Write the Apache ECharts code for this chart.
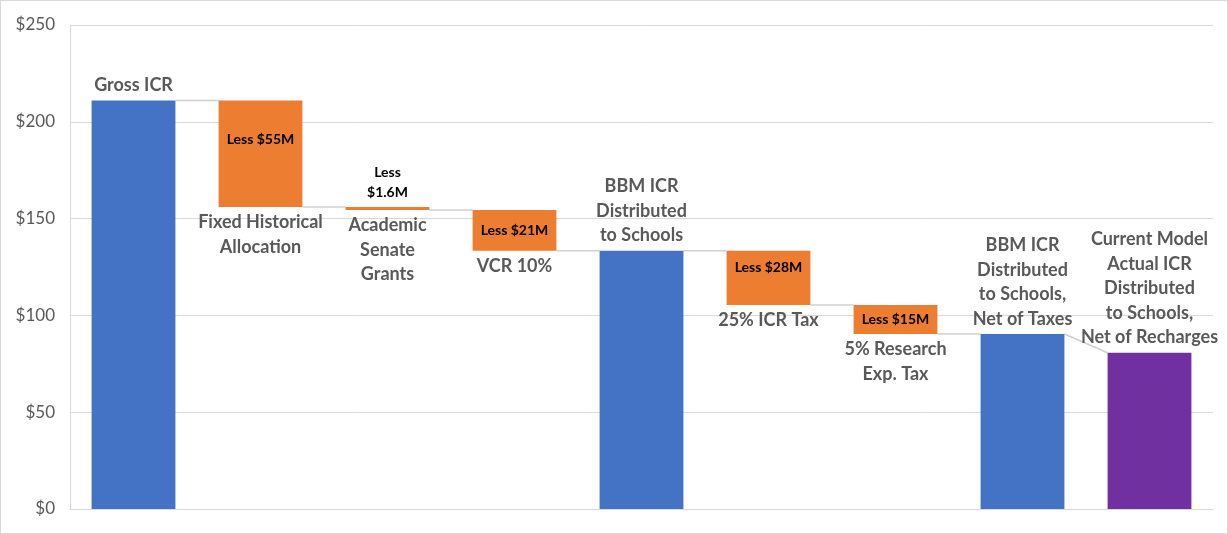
<!DOCTYPE html>
<html>
<head>
<meta charset="utf-8">
<script src="https://cdn.jsdelivr.net/npm/echarts@6/dist/echarts.min.js"></script>
<style>
  html, body { margin: 0; padding: 0; background: #fff; }
  #chart { width: 1228px; height: 534px; box-sizing: border-box; border: 1px solid #d9d9d9; }
</style>
</head>
<body>
<div id="chart"></div>
<script>
// waterfall steps, left to right
const categories = [
  'Gross ICR',
  'Fixed Historical\nAllocation',
  'Academic\nSenate\nGrants',
  'VCR 10%',
  'BBM ICR\nDistributed\nto Schools',
  '25% ICR Tax',
  '5% Research\nExp. Tax',
  'BBM ICR\nDistributed\nto Schools,\nNet of Taxes',
  'Current Model\nActual ICR\nDistributed\nto Schools,\nNet of Recharges'
]
const kinds = ['total', 'less', 'less', 'less', 'total', 'less', 'less', 'total', 'final']
const amounts = [211, 55, 1.6, 21, 133.4, 28, 15, 90.4, 80.7]
const amountLabels = ['', 'Less $55M', 'Less\n$1.6M', 'Less $21M', '', 'Less $28M', 'Less $15M', '', '']
const yTicks = [0, 50, 100, 150, 200, 250]

const FONT = 'Lato'
const GRAY = '#595959'
const colors = { total: '#4472C4', less: '#ED7D31', final: '#7030A0' }
// the amount labels were nudged by hand in the original
const labelNudge = { 1: -14, 5: -10 }

// running levels
const bases = []
const heights = []
const startLevel = []
const endLevel = []
let level = 0
amounts.forEach((v, i) => {
  if (kinds[i] === 'less') {
    startLevel.push(level)
    level = level - v
    bases.push(level)
    heights.push(v)
    endLevel.push(level)
  } else {
    startLevel.push(v)
    level = v
    bases.push(0)
    heights.push(v)
    endLevel.push(v)
  }
})

const connectors = []
for (let i = 0; i < amounts.length - 1; i++) {
  connectors.push([i, endLevel[i], startLevel[i + 1]])
}

const catLabel = {
  show: true,
  color: GRAY,
  fontFamily: FONT,
  fontWeight: 'bold',
  fontSize: 18,
  lineHeight: 24.5
}

const baseData = bases.map((b, i) => {
  const item = { value: b }
  if (kinds[i] === 'less') {
    item.label = Object.assign({}, catLabel, { position: 'insideTop', distance: 3, formatter: categories[i] })
  }
  return item
})

const barData = heights.map((h, i) => {
  const item = { value: h, itemStyle: { color: colors[kinds[i]] } }
  if (kinds[i] === 'less') {
    const thin = h < 5
    item.label = {
      show: true,
      position: thin ? 'top' : 'inside',
      offset: [0, labelNudge[i] || 0],
      distance: 4,
      color: '#000',
      fontFamily: FONT,
      fontWeight: 'bold',
      fontSize: 14,
      lineHeight: 20,
      formatter: amountLabels[i]
    }
  } else {
    item.label = Object.assign({}, catLabel, { position: 'top', distance: 3, formatter: categories[i] })
  }
  return item
})

const chart = echarts.init(document.getElementById('chart'))

const option = {
  animation: false,
  grid: { left: 69, right: 14, top: 24, bottom: 24 },
  xAxis: {
    type: 'category',
    data: categories,
    axisLine: { lineStyle: { color: '#d9d9d9' } },
    axisTick: { show: false },
    axisLabel: { show: false }
  },
  yAxis: {
    type: 'value',
    min: yTicks[0],
    max: yTicks[yTicks.length - 1],
    interval: 50,
    axisLine: { show: true, lineStyle: { color: '#d9d9d9' } },
    axisTick: { show: false },
    axisLabel: {
      color: GRAY,
      fontFamily: FONT,
      fontSize: 17,
      margin: 15,
      formatter: v => '$' + v
    },
    splitLine: { lineStyle: { color: '#d9d9d9' } }
  },
  series: [
    {
      type: 'custom',
      silent: true,
      z: 1,
      data: connectors,
      renderItem: (params, api) => {
        const from = api.coord([api.value(0), api.value(1)])
        const to = api.coord([api.value(0) + 1, api.value(2)])
        const half = api.size([1, 0])[0] * 0.33
        return {
          type: 'line',
          shape: { x1: from[0] + half, y1: from[1], x2: to[0] - half, y2: to[1] },
          style: { stroke: '#d0d0d0', lineWidth: 1.5 }
        }
      }
    },
    {
      type: 'bar',
      stack: 'w',
      silent: true,
      barCategoryGap: '34%',
      itemStyle: { color: 'transparent' },
      data: baseData,
      z: 3
    },
    {
      type: 'bar',
      stack: 'w',
      silent: true,
      barCategoryGap: '34%',
      data: barData,
      z: 2
    }
  ]
}

chart.setOption(option)
</script>
</body>
</html>
